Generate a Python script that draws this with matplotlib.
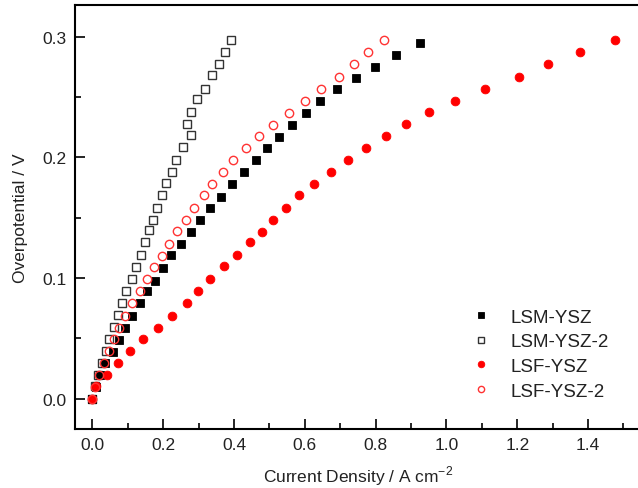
import matplotlib
matplotlib.use("Agg")
import matplotlib.pyplot as plt
from matplotlib.ticker import MultipleLocator, FormatStrFormatter

plt.rcParams['font.family'] = ['Liberation Sans', 'DejaVu Sans']
plt.rcParams['mathtext.fontset'] = 'custom'
plt.rcParams['mathtext.rm'] = 'Liberation Sans'

# LSM-YSZ (filled black squares)
lsm_x = [0.0, 0.010, 0.021, 0.036, 0.057, 0.076, 0.093, 0.113, 0.133, 0.153, 0.176,
         0.199, 0.222, 0.249, 0.277, 0.303, 0.333, 0.362, 0.395, 0.428, 0.463,
         0.494, 0.526, 0.563, 0.604, 0.642, 0.691, 0.743, 0.799, 0.858, 0.924]
lsm_y = [0.0, 0.010, 0.020, 0.0296, 0.039, 0.049, 0.059, 0.069, 0.079, 0.0895, 0.098,
         0.108, 0.119, 0.128, 0.138, 0.148, 0.158, 0.1674, 0.178, 0.1876, 0.1975,
         0.2075, 0.2166, 0.2265, 0.2365, 0.2466, 0.2566, 0.266, 0.275, 0.285, 0.295]

# LSM-YSZ-2 (open squares)
lsm2_x = [0.0, 0.007, 0.017, 0.027, 0.037, 0.048, 0.060, 0.073, 0.084, 0.096, 0.111,
          0.122, 0.136, 0.148, 0.159, 0.170, 0.183, 0.196, 0.208, 0.224, 0.236,
          0.256, 0.277, 0.266, 0.277, 0.294, 0.318, 0.337, 0.358, 0.374, 0.392]
lsm2_y = [0.0, 0.011, 0.020, 0.030, 0.040, 0.0495, 0.0594, 0.0696, 0.079, 0.0895, 0.0994,
          0.109, 0.119, 0.130, 0.1395, 0.148, 0.158, 0.1685, 0.1785, 0.188, 0.198,
          0.2085, 0.2185, 0.228, 0.238, 0.248, 0.257, 0.268, 0.277, 0.2875, 0.297]

# LSF-YSZ (filled red circles)
lsf_x = [0.0, 0.009, 0.040, 0.072, 0.107, 0.144, 0.186, 0.225, 0.266, 0.299, 0.333,
         0.371, 0.409, 0.446, 0.478, 0.509, 0.547, 0.583, 0.626, 0.675, 0.722,
         0.773, 0.828, 0.886, 0.950, 1.023, 1.110, 1.206, 1.286, 1.376, 1.476]
lsf_y = [0.0, 0.0105, 0.0199, 0.0296, 0.0395, 0.0497, 0.059, 0.069, 0.079, 0.0895, 0.0994,
         0.1097, 0.119, 0.1296, 0.138, 0.148, 0.158, 0.1685, 0.178, 0.188, 0.198,
         0.208, 0.218, 0.228, 0.238, 0.247, 0.257, 0.267, 0.277, 0.2875, 0.297]

# LSF-YSZ-2 (open red circles)
lsf2_x = [0.0, 0.007, 0.018, 0.032, 0.046, 0.060, 0.076, 0.093, 0.112, 0.133, 0.154,
          0.173, 0.196, 0.2175, 0.239, 0.265, 0.288, 0.314, 0.338, 0.368, 0.397,
          0.435, 0.470, 0.509, 0.555, 0.599, 0.645, 0.695, 0.740, 0.778, 0.823]
lsf2_y = [0.0, 0.0094, 0.0196, 0.0296, 0.040, 0.0495, 0.059, 0.069, 0.079, 0.0895, 0.0994,
          0.109, 0.118, 0.128, 0.1387, 0.148, 0.158, 0.1685, 0.178, 0.188, 0.198,
          0.208, 0.218, 0.227, 0.237, 0.247, 0.257, 0.267, 0.277, 0.2875, 0.297]

fig = plt.figure(figsize=(6.38, 4.89), dpi=100)
ax = fig.add_axes([0.1172, 0.1207, 0.8878, 0.8664])

ax.plot(lsm_x, lsm_y, ls='none', marker='s', ms=6.0, mfc='black', mec='black',
        mew=0.6, label='LSM-YSZ', zorder=3)
ax.plot(lsm2_x, lsm2_y, ls='none', marker='s', ms=5.8, mfc='none', mec='#333333',
        mew=1.0, label='LSM-YSZ-2', zorder=2)
ax.plot(lsf_x, lsf_y, ls='none', marker='o', ms=6.3, mfc='red', mec='red',
        mew=0.6, label='LSF-YSZ', zorder=3)
ax.plot(lsf2_x, lsf2_y, ls='none', marker='o', ms=6.0, mfc='none', mec='#ff3333',
        mew=1.0, label='LSF-YSZ-2', zorder=5)

ax.set_xlim(-0.05, 1.55)
ax.set_ylim(-0.025, 0.326)
ax.xaxis.set_major_locator(MultipleLocator(0.2))
ax.xaxis.set_minor_locator(MultipleLocator(0.1))
ax.yaxis.set_major_locator(MultipleLocator(0.1))
ax.yaxis.set_minor_locator(MultipleLocator(0.05))
ax.xaxis.set_major_formatter(FormatStrFormatter('%.1f'))
ax.yaxis.set_major_formatter(FormatStrFormatter('%.1f'))

ax.tick_params(which='both', direction='in', top=False, right=False,
               labelsize=12.5, width=1.2, colors='black', labelcolor='#222222')
ax.tick_params(which='major', length=7, pad=6)
ax.tick_params(which='minor', length=4)
for s in ax.spines.values():
    s.set_linewidth(1.5)

ax.set_xlabel('Current Density / A cm$^{\\mathregular{-2}}$', fontsize=12.5,
              labelpad=8, color='#222222')
ax.set_ylabel('Overpotential / V', fontsize=12.5, labelpad=10, color='#222222')

leg = ax.legend(loc='upper left', bbox_to_anchor=(0.673, 0.324), frameon=False,
                fontsize=13.5, handletextpad=1.09, labelspacing=0.40,
                handlelength=0.9, markerscale=0.75)
for t in leg.get_texts():
    t.set_color('#222222')

fig.savefig('out.png', dpi=100)
